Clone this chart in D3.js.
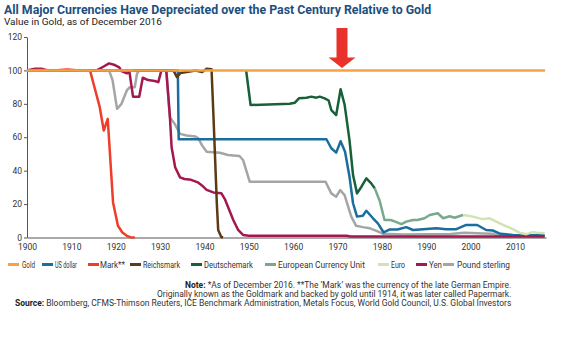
<!DOCTYPE html>
<html><head><meta charset="utf-8">
<script src="https://cdn.jsdelivr.net/npm/d3@7"></script>
<style>body{margin:0;background:#fff} svg{display:block} text{font-family:Roboto,"Liberation Sans",sans-serif}</style>
</head><body><svg id="c" width="562" height="357"></svg>
<script>
const xTicks=[1900,1910,1920,1930,1940,1950,1960,1970,1980,1990,2000,2010];
const yTicks=[0,20,40,60,80,100,120];

const goldYears=[1900,2016.8];
const goldValues=[100,100];

const usdYears=[1900,1934,1934.2,1967.5,1968.6,1969.7,1970.7,1971.7,1972.7,1973.5,1974.4,1975.7,1976.5,1978,1979.1,1980.4,1981.8,1983.5,1985.5,1987,1989.3,1992.3,1994.5,1996.8,1999,2001.5,2003.5,2005,2006.7,2008,2009.5,2016.7];
const usdValues=[100,100,58.8,58.8,53.4,50.8,57.6,51.3,36.4,20.5,12.5,13,16,11.5,8.5,3,4.8,4.8,6.2,4.5,5,5.5,5,5,7.5,7.5,4.5,4.2,2.2,2,1.5,1.4];

const markYears=[1900,1903,1906,1909,1912,1914.2,1915.3,1916.4,1917.3,1918.2,1919.4,1920.5,1921.5,1922.5,1923.3,1924.3];
const markValues=[100,100.4,100,100.5,100,100,89,78,64,71,21,7,3,1,0.2,0];

const reichsmarkYears=[1924,1933,1933.8,1934.6,1936,1938,1939.5,1940.5,1941.6,1942,1942.8,1943.1,1943.8,1944.2];
const reichsmarkValues=[100,100,96,98.5,99,100,99,101,100.7,75,20,4.5,0.3,0];

const dmYears=[1949.4,1950.4,1959.2,1960.4,1961.3,1963,1964.1,1965.2,1966,1967.1,1968,1968.6,1969.7,1970.7,1971.6,1972.7,1973.5,1974.4,1975.4,1976.5,1977.6,1978.4];
const dmValues=[100,79.3,80,80.7,83.3,83.7,84.3,83.7,84.3,83.3,82,76.3,73.3,88.7,79.5,58.3,37.4,26.4,30.4,35.4,32.4,29.4];

const ecuYears=[1978.4,1979.5,1980.6,1982,1983,1984.4,1985.5,1987,1988,1989.6,1990.8,1992.6,1993.8,1995.3,1996.4,1998.3];
const ecuValues=[29.4,22,10.5,10.5,9.5,8,9.5,10.5,10.5,11.5,13.5,14.5,11.5,12.7,11.8,13.5];

const euroYears=[1998.3,1999.5,2000.5,2002.7,2004.3,2005.8,2007.3,2009.2,2011,2012.6,2014,2015,2016.7];
const euroValues=[13.5,13,12.5,11,11.5,9.5,7.5,5.5,2.9,2,3.2,2.9,2.5];

const yenYears=[1900,1901.8,1903.3,1904.5,1915.7,1917.2,1918.5,1919.8,1920.8,1921.3,1922.5,1923.1,1923.9,1925.3,1926.1,1927.3,1928.8,1929.6,1930.3,1931.4,1932.2,1932.6,1933.4,1934.5,1935.5,1937,1938.5,1939.5,1940.5,1942,1943.8,1944.6,1945.3,1946.5,1947.6,1948.7,1950,1972,1973,2016.7];
const yenValues=[100,101,101,100,100,102.2,104.2,103.2,101.8,99.6,98.3,99,84.3,84.3,95.6,94.2,93.7,93,100,100,73,54,42,36,35,34.5,33,31,28.5,27,26.5,23,18.4,10.5,4.5,1.5,1,1,0.6,0.6];

const poundYears=[1900,1918.5,1919.3,1920.3,1921.3,1922.5,1923.2,1924.3,1924.8,1925.3,1931.4,1932.2,1933.3,1934.5,1936,1938,1938.6,1939.5,1940.5,1943.5,1945.3,1947.9,1948.7,1950.2,1967.3,1968.6,1969.7,1970.6,1971.6,1973.1,1974.2,1975.7,1977.3,1978.8,1980.2,1985,1990,1995,1998.5,2000,2003,2005,2006.5,2016.7];
const poundValues=[100,100,94,77,80,88,90,90,98,100,100,72,68,62,61,60.5,59.4,55,51.3,50.7,49.4,48.8,46.4,33.4,33.4,26.4,24.4,28.4,25.4,12.5,7,6.2,5.5,4,2.3,1.8,2,2,2.9,2.7,2.4,2.2,1,0.9];

const legendNames=["Gold","US dollar","Mark**","Reichsmark","Deutschemark","European Currency Unit","Euro","Yen","Pound sterling"];
const colors={"Gold":"#f5a340","US dollar":"#1a6e9e","Mark**":"#ee3d2a","Reichsmark":"#5c3a16","Deutschemark":"#176038","European Currency Unit":"#78a98f","Euro":"#d0e4b3","Yen":"#a3184e","Pound sterling":"#a5a5a5"};

const series=[
 {name:"Pound sterling",years:poundYears,values:poundValues},
 {name:"US dollar",years:usdYears,values:usdValues},
 {name:"Yen",years:yenYears,values:yenValues},
 {name:"Mark**",years:markYears,values:markValues},
 {name:"Reichsmark",years:reichsmarkYears,values:reichsmarkValues},
 {name:"Deutschemark",years:dmYears,values:dmValues},
 {name:"European Currency Unit",years:ecuYears,values:ecuValues},
 {name:"Euro",years:euroYears,values:euroValues},
 {name:"Gold",years:goldYears,values:goldValues}
];

const svg=d3.select("#c");
const x=d3.scaleLinear().domain([1900,2017]).range([27,546]);
const y=d3.scaleLinear().domain([0,120]).range([237.5,37]);

function fit(sel,x0,x1){
  const w=sel.node().getComputedTextLength();
  const s=(x1-x0)/w;
  sel.attr("transform",`translate(${x0},0) scale(${s},1) translate(${-x0},0)`);
}

// title
const t=svg.append("text").attr("x",4).attr("y",14.5).attr("font-size",12.5).attr("font-weight","bold").attr("fill","#1c4f80")
  .text("All Major Currencies Have Depreciated over the Past Century Relative to Gold");
fit(t,4,432);
const st=svg.append("text").attr("x",4).attr("y",25).attr("font-size",9).attr("fill","#222").text("Value in Gold, as of December 2016");
fit(st,4,162);

// axes
const ya=svg.append("g").attr("transform","translate(27,0)")
  .call(d3.axisLeft(y).tickValues(yTicks).tickSize(3).tickPadding(2).tickSizeOuter(0));
ya.select(".domain").attr("stroke","#555");
ya.selectAll(".tick line").attr("stroke","#555");
ya.selectAll("text").attr("font-size",8.5).attr("fill","#333").attr("font-family","Roboto");

const xa=svg.append("g").attr("transform","translate(0,237.5)")
  .call(d3.axisBottom(x).tickValues(xTicks).tickFormat(d3.format("d")).tickSize(0).tickPadding(6.5).tickSizeOuter(0));
xa.select(".domain").attr("stroke","#555");
xa.selectAll("text").attr("font-size",8.5).attr("fill","#333").attr("font-family","Roboto");

// lines
const line=d3.line().x(d=>x(d[0])).y(d=>y(d[1]));
svg.append("g").selectAll("path").data(series).join("path")
  .attr("d",s=>line(s.years.map((yr,i)=>[yr,s.values[i]])))
  .attr("fill","none").attr("stroke",s=>colors[s.name]).attr("stroke-width",2.5)
  .attr("stroke-linejoin","round").attr("stroke-linecap","butt");

// arrow
const ax=342;
svg.append("path").attr("d",`M${ax-5.5},28 L${ax+5.5},28 L${ax+5.5},57.5 L${ax+13.5},57.5 L${ax},68 L${ax-13.5},57.5 L${ax-5.5},57.5 Z`).attr("fill","#e8322b");

// legend
const legPos=[[8,22,35],[42,55,77],[88,100,125],[130,143,180],[191,204,253],[265,278,365],[378,391,405],[416,429,442],[443,457,510]];
const lg=svg.append("g");
legendNames.forEach((n,i)=>{
  const p=legPos[i];
  lg.append("line").attr("x1",p[0]).attr("x2",p[0]+11).attr("y1",264.5).attr("y2",264.5).attr("stroke",colors[n]).attr("stroke-width",3);
  const tx=lg.append("text").attr("x",p[1]).attr("y",267.8).attr("font-size",9).attr("fill","#333").text(n);
  fit(tx,p[1],p[2]);
});

// notes
const n1=svg.append("text").attr("x",185).attr("y",288).attr("font-size",8.5).attr("fill","#333");
n1.append("tspan").attr("font-weight","bold").attr("fill","#222").text("Note: ");
n1.append("tspan").text("*As of December 2016. **The \u2018Mark\u2019 was the currency of the late German Empire.");
fit(n1,185,512);
const n2=svg.append("text").attr("x",157).attr("y",297).attr("font-size",8.5).attr("fill","#333")
  .text("Originally known as the Goldmark and backed by gold until 1914, it was later called Papermark.");
fit(n2,157,512);
const n3=svg.append("text").attr("x",15).attr("y",306.5).attr("font-size",8.5).attr("fill","#333");
n3.append("tspan").attr("font-weight","bold").attr("fill","#222").text("Source: ");
n3.append("tspan").text("Bloomberg, CFMS-Thimson Reuters, ICE Benchmark Administration, Metals Focus, World Gold Council, U.S. Global Investors");
fit(n3,15,512);
</script></body></html>
